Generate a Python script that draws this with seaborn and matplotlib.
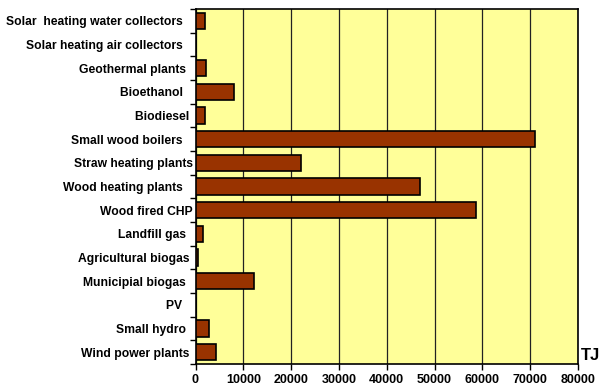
import matplotlib
matplotlib.use("Agg")
import matplotlib.pyplot as plt
import seaborn as sns
import pandas as pd
import numpy as np

categories = ["Solar  heating water collectors   ", "Solar heating air collectors   ",
              "Geothermal plants  ", "Bioethanol   ", "Biodiesel ", "Small wood boilers   ",
              "Straw heating plants", "Wood heating plants   ", "Wood fired CHP",
              "Landfill gas  ", "Agricultural biogas ", "Municipial biogas  ", "PV   ",
              "Small hydro  ", "Wind power plants "]
values = [2050, 200, 2300, 8000, 1950, 71100, 22000, 46900, 58600, 1650, 550, 12200, 0, 2900, 4250]
xticks = [0, 10000, 20000, 30000, 40000, 50000, 60000, 70000, 80000]

sns.set_theme(style="white")
plt.rcParams['font.family'] = ['Liberation Sans', 'DejaVu Sans']
plt.rcParams['text.color'] = 'black'
plt.rcParams['xtick.color'] = 'black'
plt.rcParams['ytick.color'] = 'black'

df = pd.DataFrame({"cat": categories, "val": values})

fig = plt.figure(figsize=(6.01, 3.88), dpi=100)
ax = fig.add_axes([195.5/601, 1 - 364/388, (578 - 195.5)/601, (364 - 9)/388])
ax.set_facecolor("#FFFF99")
sns.barplot(data=df, x="val", y="cat", orient="h", color="#993300",
            edgecolor="black", linewidth=1.2, width=0.7, saturation=1, ax=ax, zorder=3)
ax.set_xlim(0, 80000)
ax.set_ylim(len(categories) - 0.5, -0.5)
ax.set_xticks(xticks)
ax.set_xticklabels([str(t) for t in xticks], fontweight="bold", fontsize=9)
ax.set_yticks(range(len(categories)))
ax.set_yticklabels(categories, fontweight="bold", fontsize=8.7)
ax.set_yticks(np.arange(-0.5, len(categories), 1), minor=True)
ax.tick_params(axis="y", which="major", length=0, pad=2)
ax.tick_params(axis="y", which="minor", length=4, width=1, color="black", direction="out", left=True)
ax.tick_params(axis="x", which="major", length=4, width=1, color="black", direction="out", bottom=True, pad=3)
ax.grid(axis="x", color="#222222", linewidth=0.9, zorder=0)
ax.set_axisbelow(True)
ax.set_xlabel("")
ax.set_ylabel("")
for s in ax.spines.values():
    s.set_color("black")
    s.set_linewidth(1.2)
fig.text(581/601, 1 - 355/388, "TJ", fontweight="bold", fontsize=12, va="center", ha="left")
fig.savefig("out.png", dpi=100)
